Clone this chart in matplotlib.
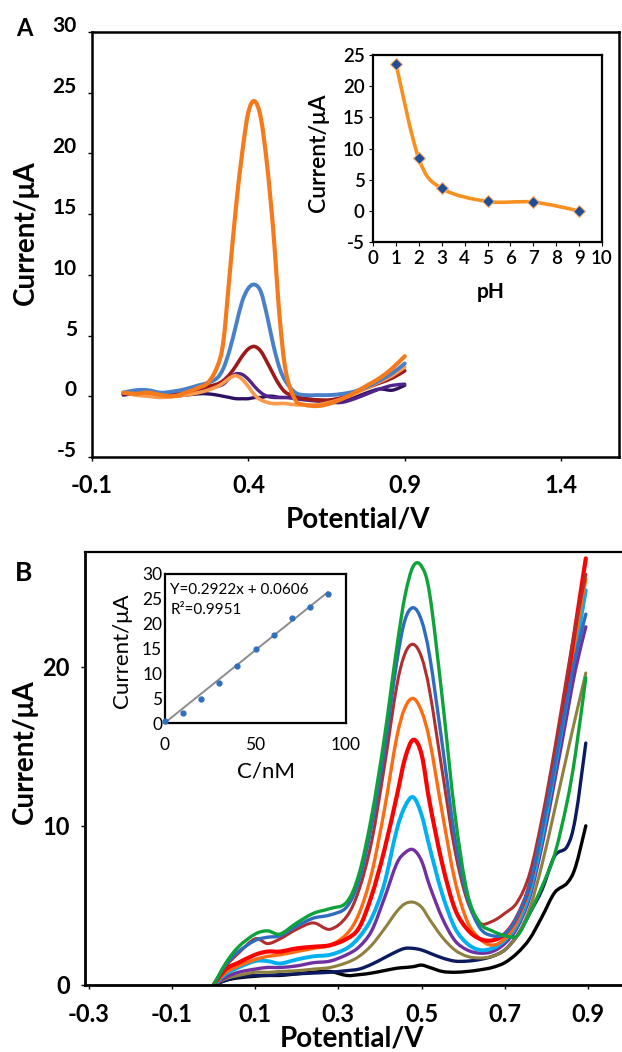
import numpy as np
import matplotlib
matplotlib.use("Agg")
import matplotlib.pyplot as plt
from matplotlib.path import Path
from matplotlib.patches import PathPatch

plt.rcParams['font.family'] = ['Lato', 'DejaVu Sans']
plt.rcParams['axes.unicode_minus'] = False

# ---------------- panel A : DPV curves at different pH ----------------
potential_a = [0.00, 0.04, 0.08, 0.12, 0.16, 0.20, 0.24, 0.27, 0.30, 0.32,
               0.34, 0.36, 0.38, 0.40, 0.42, 0.44, 0.46, 0.48, 0.50, 0.52,
               0.55, 0.58, 0.62, 0.66, 0.70, 0.74, 0.78, 0.82, 0.86, 0.90]
current_ph1 = [0.3, 0.2, 0.3, 0.1, 0.0, 0.3, 0.7, 1.1, 2.4, 4.5,
               10.0, 15.5, 20.0, 23.4, 24.3, 22.9, 19.0, 13.5, 6.5, 2.0,
               -0.3, -0.7, -0.8, -0.6, -0.2, 0.3, 0.9, 1.5, 2.3, 3.3]
current_ph2 = [0.3, 0.5, 0.5, 0.3, 0.4, 0.6, 0.9, 1.1, 1.5, 2.3,
               3.8, 5.8, 7.8, 8.9, 9.2, 8.6, 6.6, 4.2, 2.3, 1.2,
               0.3, 0.1, 0.1, 0.1, 0.2, 0.4, 0.8, 1.3, 1.9, 2.7]
current_ph3 = [0.2, 0.3, 0.2, 0.1, 0.2, 0.3, 0.6, 0.8, 1.0, 1.3,
               1.8, 2.5, 3.3, 3.9, 4.1, 3.7, 2.8, 1.8, 0.9, 0.3,
               0.0, -0.2, -0.3, -0.3, -0.1, 0.3, 0.7, 1.1, 1.5, 2.1]
current_ph5 = [0.2, 0.3, 0.2, 0.1, 0.1, 0.2, 0.4, 0.6, 0.8, 1.0,
               1.5, 1.85, 1.8, 1.4, 0.8, 0.3, 0.0, -0.1, -0.1, -0.1,
               -0.2, -0.3, -0.4, -0.5, -0.5, -0.2, 0.2, 0.6, 0.9, 1.0]
current_ph7 = [0.3, 0.1, 0.0, -0.1, 0.0, 0.1, 0.3, 0.5, 0.8, 1.1,
               1.5, 1.7, 1.4, 0.8, 0.1, -0.3, -0.5, -0.6, -0.6, -0.6,
               -0.7, -0.7, -0.7, -0.5, -0.2, 0.2, 0.7, 1.2, 1.7, 2.4]
current_ph9 = [0.1, 0.2, 0.1, 0.0, 0.0, 0.1, 0.2, 0.2, 0.1, 0.0,
               -0.1, -0.2, -0.2, -0.2, -0.1, -0.1, 0.0, 0.0, -0.1, -0.1,
               -0.1, -0.2, -0.3, -0.4, -0.4, -0.1, 0.3, 0.6, 0.5, 0.9]

ph_values = [1, 2, 3, 5, 7, 9]
ph_current = [23.6, 8.4, 3.6, 1.5, 1.4, 0.0]

# ---------------- panel B : DPV curves at increasing concentration ----------------
potential_b = [0.00, 0.03, 0.06, 0.10, 0.13, 0.16, 0.20, 0.24, 0.28, 0.32,
               0.35, 0.38, 0.41, 0.44, 0.46, 0.48, 0.50, 0.52, 0.55, 0.58,
               0.61, 0.64, 0.67, 0.70, 0.73, 0.76, 0.79, 0.82, 0.85, 0.87, 0.895]
current_black = [0, 0.3, 0.45, 0.55, 0.6, 0.6, 0.7, 0.8, 0.85, 0.6,
                 0.65, 0.75, 0.9, 1.05, 1.1, 1.15, 1.25, 1.1, 0.85, 0.8,
                 0.85, 0.95, 1.1, 1.4, 2.0, 2.9, 4.3, 5.8, 6.4, 7.4, 10.0]
current_navy = [0, 0.3, 0.5, 0.6, 0.6, 0.65, 0.7, 0.75, 0.8, 0.9,
                1.0, 1.3, 1.7, 2.1, 2.3, 2.3, 2.2, 2.0, 1.7, 1.5,
                1.5, 1.6, 1.8, 2.2, 3.1, 4.5, 6.0, 8.1, 8.7, 10.5, 15.2]
current_olive = [0, 0.4, 0.6, 0.8, 0.8, 0.85, 0.9, 1.0, 1.1, 1.4,
                 1.8, 2.5, 3.5, 4.6, 5.1, 5.2, 4.9, 4.1, 3.0, 2.2,
                 1.8, 1.7, 1.8, 2.2, 3.1, 4.8, 7.6, 11.0, 14.5, 16.8, 19.6]
current_purple = [0, 0.5, 0.8, 1.0, 1.1, 1.1, 1.2, 1.4, 1.5, 1.9,
                  2.4, 3.4, 5.4, 7.6, 8.3, 8.5, 7.8, 6.2, 4.2, 2.8,
                  2.2, 2.0, 2.1, 2.6, 3.6, 5.5, 8.8, 12.8, 17.0, 19.8, 22.5]
current_cyan = [0, 0.7, 1.1, 1.5, 1.5, 1.35, 1.6, 1.8, 1.9, 2.3,
                3.0, 4.2, 6.3, 9.7, 11.2, 11.8, 10.7, 8.6, 5.7, 3.6,
                2.6, 2.2, 2.3, 2.8, 3.8, 5.8, 9.3, 13.5, 18.0, 21.0, 24.8]
current_red = [0, 1.0, 1.4, 1.9, 2.1, 2.1, 2.3, 2.4, 2.5, 2.9,
               3.6, 5.6, 8.4, 11.8, 14.2, 15.4, 14.5, 11.4, 7.6, 4.8,
               3.5, 2.9, 2.8, 3.2, 4.3, 6.3, 10.0, 14.0, 19.0, 22.5, 26.8]
current_orange = [0, 0.8, 1.2, 1.6, 1.8, 1.9, 2.1, 2.3, 2.5, 3.2,
                  4.5, 7.0, 10.9, 15.5, 17.4, 18.0, 17.2, 15.3, 10.8, 6.6,
                  4.0, 2.9, 2.5, 2.9, 4.0, 6.2, 9.8, 14.0, 18.5, 21.8, 25.5]
current_darkred = [0, 1.2, 2.0, 2.9, 2.6, 2.9, 3.5, 3.9, 3.5, 4.3,
                   6.0, 9.0, 13.6, 18.7, 20.8, 21.4, 20.6, 18.4, 13.4, 8.5,
                   5.3, 3.9, 4.0, 4.5, 5.2, 7.0, 10.5, 14.8, 19.5, 22.5, 25.8]
current_blue = [0, 1.3, 2.1, 2.8, 3.0, 3.1, 3.7, 4.2, 4.4, 4.9,
                6.6, 10.0, 14.6, 20.2, 22.9, 23.7, 22.9, 20.6, 15.1, 9.3,
                5.5, 3.6, 3.1, 3.2, 4.3, 6.3, 9.8, 13.8, 18.0, 20.6, 23.3]
current_green = [0, 1.4, 2.4, 3.2, 3.4, 3.2, 3.9, 4.5, 4.8, 5.2,
                 7.0, 10.6, 15.4, 21.1, 24.4, 26.3, 26.3, 24.5, 18.0, 10.8,
                 5.8, 3.9, 3.4, 3.1, 3.1, 4.5, 6.2, 8.2, 11.5, 14.5, 19.3]

conc_nm = [0, 10, 20, 30, 40, 50, 60, 70, 80, 90]
conc_current = [0.4, 2.0, 4.8, 8.1, 11.4, 15.0, 17.7, 21.2, 23.4, 26.0]
fit_slope = 0.2922
fit_intercept = 0.0606
fit_r2 = 0.9951

W, H = 622, 1052


def px_box(l, t, r, b):
    return [l / W, 1 - b / H, (r - l) / W, (b - t) / H]


def px_xy(x, y):
    return x / W, 1 - y / H


def smooth_line(ax, x, y, color, lw, zorder=2):
    """Draw a smoothed (Catmull-Rom) curve through the points."""
    pts = np.column_stack([x, y]).astype(float)
    ext = np.vstack([pts[0], pts, pts[-1]])
    verts = [pts[0]]
    codes = [Path.MOVETO]
    for i in range(1, len(ext) - 2):
        p0, p1, p2, p3 = ext[i - 1], ext[i], ext[i + 1], ext[i + 2]
        verts += [p1 + (p2 - p0) / 6, p2 - (p3 - p1) / 6, p2]
        codes += [Path.CURVE4] * 3
    ax.add_patch(PathPatch(Path(verts, codes), fill=False, edgecolor=color,
                           lw=lw, capstyle='round', joinstyle='round',
                           zorder=zorder))


fig = plt.figure(figsize=(W / 100, H / 100), dpi=100)

# ---- panel A main ----
axA = fig.add_axes(px_box(92, 32, 619, 457))
smooth_line(axA, potential_a, current_ph9, '#2e1060', 2.4)
smooth_line(axA, potential_a, current_ph5, '#52238a', 2.4)
smooth_line(axA, potential_a, current_ph3, '#9c1a1a', 2.6)
smooth_line(axA, potential_a, current_ph7, '#f99a4e', 2.6)
smooth_line(axA, potential_a, current_ph2, '#4a80c8', 2.8)
smooth_line(axA, potential_a, current_ph1, '#f47a1c', 3.0)
axA.set_xlim(-0.1, 1.585)
axA.set_ylim(-5, 30)
axA.set_xticks([-0.1, 0.4, 0.9, 1.4])
axA.set_xticklabels(['-0.1', '0.4', '0.9', '1.4'], fontsize=17, fontweight='bold')
axA.set_yticks(range(-5, 31, 5))
axA.set_yticklabels([str(v) for v in range(-5, 31, 5)], fontsize=15, fontweight='bold')
for lab in axA.get_yticklabels():
    lab.set_va('baseline')
axA.tick_params(axis='x', length=3, width=1, pad=9, direction='out')
axA.tick_params(axis='y', length=3, width=1, pad=8, direction='out')
for s in axA.spines.values():
    s.set_linewidth(1.8)
fig.text(*px_xy(26, 233), 'Current/μA', rotation=90, ha='center', va='center',
         fontsize=20, fontweight='bold')
fig.text(*px_xy(358, 519), 'Potential/V', ha='center', va='center',
         fontsize=20, fontweight='bold')
fig.text(*px_xy(24, 28), 'A', ha='center', va='center', fontsize=17, fontweight='bold')

# ---- panel A inset: peak current vs pH ----
insA = fig.add_axes(px_box(373, 55, 602, 242))
smooth_line(insA, ph_values, ph_current, '#f7901e', 2.6)
insA.plot(ph_values, ph_current, linestyle='none', marker='D', markersize=6,
          markerfacecolor='#1f4e96', markeredgecolor='#f9b070', markeredgewidth=0.8,
          zorder=3)
insA.set_xlim(0, 10)
insA.set_ylim(-5, 25)
insA.set_xticks(range(0, 11))
insA.set_yticks(range(-5, 26, 5))
insA.tick_params(axis='both', labelsize=13.5, length=3, pad=3)
for lab in insA.get_xticklabels() + insA.get_yticklabels():
    lab.set_fontweight('semibold')
for s in insA.spines.values():
    s.set_linewidth(1.6)
fig.text(*px_xy(319, 153), 'Current/μA', rotation=90, ha='center', va='center',
         fontsize=16.5, fontweight='semibold')
fig.text(*px_xy(491, 292), 'pH', ha='center', va='center',
         fontsize=15, fontweight='bold')

# ---- panel B main ----
axB = fig.add_axes(px_box(85, 552, 622, 985))
b_series = [
    (current_black, '#000000', 2.4),
    (current_navy, '#0c1a60', 2.4),
    (current_olive, '#8f8040', 2.2),
    (current_purple, '#7030a0', 2.4),
    (current_cyan, '#00b0f0', 2.8),
    (current_orange, '#ff6a10', 2.4),
    (current_red, '#ff0000', 3.0),
    (current_darkred, '#b22e2e', 2.2),
    (current_blue, '#2e6cc0', 2.4),
    (current_green, '#0ea23a', 2.4),
]
for ys, col, lw in b_series:
    smooth_line(axB, potential_b, ys, col, lw)
axB.set_xlim(-0.309, 0.982)
axB.set_ylim(0, 27.2)
axB.set_xticks([-0.3, -0.1, 0.1, 0.3, 0.5, 0.7, 0.9])
axB.set_xticklabels(['-0.3', '-0.1', '0.1', '0.3', '0.5', '0.7', '0.9'],
                    fontsize=17, fontweight='bold')
axB.set_yticks([0, 10, 20])
axB.set_yticklabels(['0', '10', '20'], fontsize=17, fontweight='bold')
axB.tick_params(axis='x', length=3, width=1, pad=10, direction='out')
axB.tick_params(axis='y', length=3, width=1, pad=8, direction='out')
axB.spines['right'].set_visible(False)
axB.spines['left'].set_linewidth(2.0)
axB.spines['bottom'].set_linewidth(2.0)
axB.spines['top'].set_linewidth(1.6)
fig.text(*px_xy(25, 752), 'Current/μA', rotation=90, ha='center', va='center',
         fontsize=20, fontweight='bold')
fig.text(*px_xy(352, 1039), 'Potential/V', ha='center', va='center',
         fontsize=20, fontweight='bold')
fig.text(*px_xy(24, 573), 'B', ha='center', va='center', fontsize=19, fontweight='bold')

# ---- panel B inset: calibration line ----
insB = fig.add_axes(px_box(165, 574, 346, 723))
fit_x = np.array([0, max(conc_nm)])
insB.plot(fit_x, fit_slope * fit_x + fit_intercept, color='#8c8c8c', lw=1.4, zorder=2)
insB.plot(conc_nm, conc_current, linestyle='none', marker='o', markersize=3.5,
          color='#2f6fc0', zorder=4, clip_on=False)
insB.set_xlim(0, 100)
insB.set_ylim(0, 30)
insB.set_xticks([0, 50, 100])
insB.set_yticks(range(0, 31, 5))
insB.tick_params(axis='y', labelsize=12.5, length=0, pad=2)
insB.tick_params(axis='x', labelsize=12.5, length=0, pad=10)
for s in insB.spines.values():
    s.set_linewidth(1.6)
insB.text(0.03, 0.89, f'Y={fit_slope}x + {fit_intercept}', transform=insB.transAxes,
          fontsize=11, va='center', ha='left')
insB.text(0.03, 0.76, f'R²={fit_r2}', transform=insB.transAxes,
          fontsize=11, va='center', ha='left')
fig.text(*px_xy(122, 651), 'Current/μA', rotation=90, ha='center', va='center',
         fontsize=16)
fig.text(*px_xy(266, 771), 'C/nM', ha='center', va='center', fontsize=16)

fig.savefig('out.png', dpi=100)
